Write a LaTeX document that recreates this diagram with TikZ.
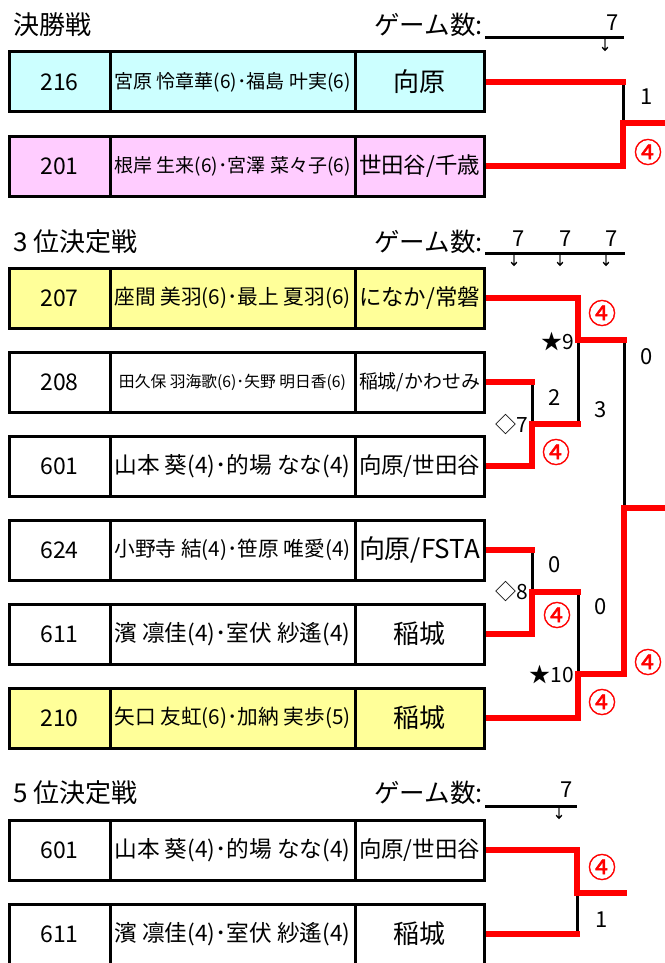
\documentclass[tikz,border=0pt]{standalone}
\usepackage{fontspec}
\usepackage{graphicx}
\setmainfont{Noto Sans CJK JP}
\newfontfamily\winfont[FakeBold=1.6]{Noto Sans CJK JP}
\usetikzlibrary{backgrounds}
\definecolor{cyanbox}{HTML}{CCFFFF}
\definecolor{pinkbox}{HTML}{FFCCFF}
\definecolor{yelbox}{HTML}{FFFF99}
\definecolor{bred}{HTML}{FF0000}
\tikzset{
  cell/.style={draw=black, line width=3pt, minimum height=60pt, inner sep=0pt, anchor=center},
  numcell/.style={cell, minimum width=101pt, font=\fontsize{23}{25}\selectfont},
  plcell/.style={cell, minimum width=245pt},
  tmcell/.style={cell, minimum width=129pt, font=\fontsize{26}{28}\selectfont},
  redl/.style={draw=bred, line width=6pt, line cap=rect},
  blkl/.style={draw=black, line width=3pt},
  scorelbl/.style={font=\fontsize{22}{24}\selectfont, inner sep=0pt},
  winlbl/.style={text=bred, font=\winfont\fontsize{28}{30}\selectfont, inner sep=0pt},
  marklbl/.style={font=\fontsize{21}{23}\selectfont, inner sep=0pt, anchor=east},
  titlelbl/.style={font=\fontsize{26}{28}\selectfont, inner sep=0pt, anchor=west},
  gamelbl/.style={font=\fontsize{25.5}{27}\selectfont, inner sep=0pt, anchor=east},
  sevenlbl/.style={font=\fontsize{22}{24}\selectfont, inner sep=0pt},
  arrowlbl/.style={font=\winfont\fontsize{13}{13}\selectfont, inner sep=0pt},
  rulel/.style={draw=black, line width=3pt}
}
\newcommand\fitpl[1]{\resizebox{236pt}{!}{#1}}
\newcommand\fitplsmall[1]{\resizebox{227pt}{!}{#1}}
\newcommand\fittm[1]{\resizebox{121pt}{!}{#1}}
\newcommand\entryrow[5]{%
  \node[numcell, fill=#3] (#1n) at (59.5,#2) {#4};
  \node[plcell, fill=#3] (#1p) at (232.5,#2) {#5};
}
\begin{document}
\begin{tikzpicture}[x=1pt,y=-1pt]
\useasboundingbox (0,0) rectangle (664,963);

% ---------- Final ----------
\node[titlelbl] (ttlF) at (13,25) {決勝戦};
\node[gamelbl] (gmF) at (483,25) {ゲーム数:};
\coordinate (rFa) at (485,38); \coordinate (rFb) at (624,38);
\draw[rulel] (rFa) -- (rFb);
\node[sevenlbl] (svF) at (613,23) {7};
\node[arrowlbl] (arF) at (605,45) {↓};

\entryrow{f216}{82}{cyanbox}{216}{\fitpl{宮原 怜章華(6)･福島 叶実(6)}}
\node[tmcell, fill=cyanbox] (f216) at (419.5,82) {向原};
\entryrow{f201}{166}{pinkbox}{201}{\fitpl{根岸 生来(6)･宮澤 菜々子(6)}}
\node[tmcell, fill=pinkbox] (f201) at (419.5,166) {\fittm{世田谷/千歳}};

% ---------- 3rd place ----------
\node[titlelbl] (ttlT) at (13,242) {3 位決定戦};
\node[gamelbl] (gmT) at (483,242) {ゲーム数:};
\coordinate (rTa) at (485,253); \coordinate (rTb) at (625,253);
\draw[rulel] (rTa) -- (rTb);
\node[sevenlbl] (svT1) at (519,239) {7};
\node[sevenlbl] (svT2) at (566,239) {7};
\node[sevenlbl] (svT3) at (612,239) {7};
\node[arrowlbl] (arT1) at (514,260) {↓};
\node[arrowlbl] (arT2) at (560,260) {↓};
\node[arrowlbl] (arT3) at (606,260) {↓};

\entryrow{t207}{298}{yelbox}{207}{\fitpl{座間 美羽(6)･最上 夏羽(6)}}
\node[tmcell, fill=yelbox] (t207) at (419.5,298) {\fittm{になか/常磐}};
\entryrow{t208}{382}{white}{208}{\fitplsmall{田久保 羽海歌(6)･矢野 明日香(6)}}
\node[tmcell, fill=white] (t208) at (419.5,382) {\fittm{稲城/かわせみ}};
\entryrow{t601}{466}{white}{601}{\fitpl{山本 葵(4)･的場 なな(4)}}
\node[tmcell, fill=white] (t601) at (419.5,466) {\fittm{向原/世田谷}};
\entryrow{t624}{550}{white}{624}{\fitpl{小野寺 結(4)･笹原 唯愛(4)}}
\node[tmcell, fill=white] (t624) at (419.5,550) {\fittm{向原/FSTA}};
\entryrow{t611}{634}{white}{611}{\fitpl{濱 凛佳(4)･室伏 紗遙(4)}}
\node[tmcell, fill=white] (t611) at (419.5,634) {稲城};
\entryrow{t210}{718}{yelbox}{210}{\fitpl{矢口 友虹(6)･加納 実歩(5)}}
\node[tmcell, fill=yelbox] (t210) at (419.5,718) {稲城};

% ---------- 5th place ----------
\node[titlelbl] (ttlG) at (13,793) {5 位決定戦};
\node[gamelbl] (gmG) at (483,793) {ゲーム数:};
\coordinate (rGa) at (485,806); \coordinate (rGb) at (577,806);
\draw[rulel] (rGa) -- (rGb);
\node[sevenlbl] (svG) at (567,790) {7};
\node[arrowlbl] (arG) at (559,813) {↓};

\entryrow{g601}{850}{white}{601}{\fitpl{山本 葵(4)･的場 なな(4)}}
\node[tmcell, fill=white] (g601) at (419.5,850) {\fittm{向原/世田谷}};
\entryrow{g611}{934}{white}{611}{\fitpl{濱 凛佳(4)･室伏 紗遙(4)}}
\node[tmcell, fill=white] (g611) at (419.5,934) {稲城};

% ---------- bracket coordinates ----------
\coordinate (fA) at (623,82);
\coordinate (fJ) at (623,123);
\coordinate (fE) at (664,123);

\coordinate (t7a) at (532,382); \coordinate (t7j) at (532,424); \coordinate (t7e) at (578,424);
\coordinate (t9j) at (578,340); \coordinate (t9e) at (624,340);
\coordinate (t8a) at (532,550); \coordinate (t8j) at (532,592); \coordinate (t8e) at (578,592);
\coordinate (t10j) at (578,674); \coordinate (t10e) at (624,674);
\coordinate (tFj) at (624,508); \coordinate (tFe) at (664,508);

\coordinate (g5j) at (577,893); \coordinate (g5e) at (624,893); \coordinate (g5b) at (577,934);

\begin{scope}[on background layer]
  % final
  \draw[blkl] (fA) -- (fJ);
  \draw[redl] (f216.east) -- (fA);
  \draw[redl] (f201.east) -| (fJ) -- (fE);
  % 3rd place
  \draw[blkl] (t7a) -- (t7j);
  \draw[blkl] (t9j) -- (t7e);
  \draw[blkl] (t9e) -- (tFj);
  \draw[blkl] (t8a) -- (t8j);
  \draw[blkl] (t8e) -- (t10j);
  \draw[redl] (t208.east) -- (t7a);
  \draw[redl] (t601.east) -| (t7j) -- (t7e);
  \draw[redl] (t207.east) -| (t9j) -- (t9e);
  \draw[redl] (t624.east) -- (t8a);
  \draw[redl] (t611.east) -| (t8j) -- (t8e);
  \draw[redl] (t210.east) -| (t10j) -- (t10e) -- (tFj) -- (tFe);
  % 5th place
  \draw[blkl] (g5j) -- (g5b);
  \draw[redl] (g601.east) -| (g5j) -- (g5e);
  \draw[redl] (g611.east) -- (g5b);
\end{scope}

% ---------- scores ----------
\node[scorelbl] (sF1) at (647,97) {1};
\node[winlbl] (wF1) at (648,152) {④};

\node[winlbl] (wT9) at (602,313) {④};
\node[marklbl] (mk9) at (574,342) {★9};
\node[scorelbl] (sTF0) at (647,357) {0};
\node[scorelbl] (sT7a) at (555,398) {2};
\node[scorelbl] (sT9b) at (601,410) {3};
\node[marklbl] (mk7) at (528,425) {◇7};
\node[winlbl] (wT7) at (556,452) {④};
\node[scorelbl] (sT8a) at (555,565) {0};
\node[marklbl] (mk8) at (528,592) {◇8};
\node[winlbl] (wT8) at (557,615) {④};
\node[scorelbl] (sT10a) at (601,607) {0};
\node[marklbl] (mk10) at (574,675) {★10};
\node[winlbl] (wTF) at (648,662) {④};
\node[winlbl] (wT10) at (602,702) {④};

\node[winlbl] (wG) at (602,867) {④};
\node[scorelbl] (sG1) at (602,920) {1};
\end{tikzpicture}
\end{document}
